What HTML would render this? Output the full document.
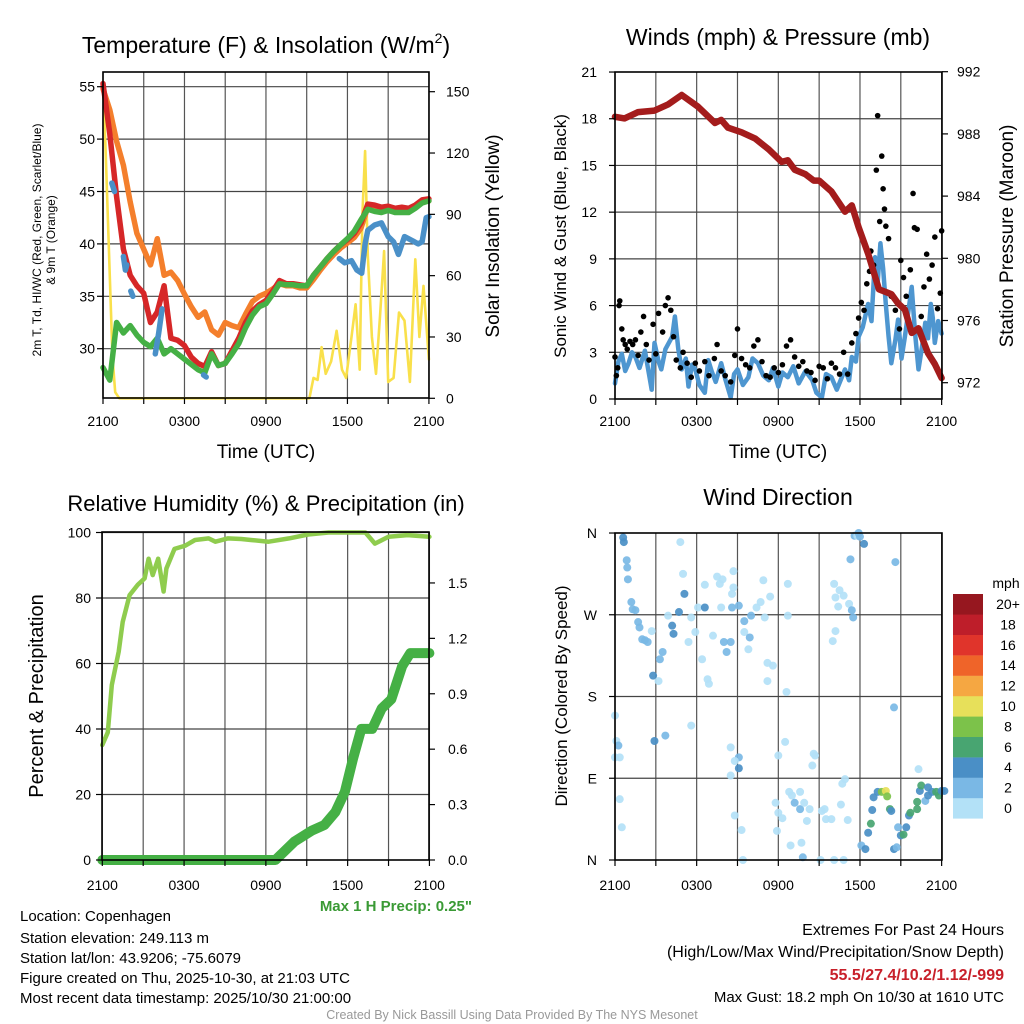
<!DOCTYPE html>
<html><head><meta charset="utf-8">
<style>
html,body{margin:0;padding:0;background:#fff;}
svg{display:block;font-family:"Liberation Sans",Arial,sans-serif;}
</style></head>
<body>
<svg id="chart" xmlns="http://www.w3.org/2000/svg" width="1024" height="1024" viewBox="0 0 1024 1024"></svg>
<script>
// ---------- DATA ----------
const hoursGrid = [0,0.5,1,1.5,2,2.5,3,3.5,4,4.5,5,5.5,6,6.5,7,7.5,8,8.5,9,9.5,10,10.5,11,11.5,12,12.5,13,13.5,14,14.5,15,15.5,16,16.5,17,17.5,18,18.5,19,19.5,20,20.5,21,21.5,22,22.5,23,23.5,24];
const temp2m = [55.3,50.5,44.5,39.5,37,36,35.3,32.5,33.5,36,31,30.8,30.3,29.2,28.6,28.3,29.7,28.4,28.6,29.8,31,32.5,33.6,34.2,34.6,35.5,36.5,36.2,36.2,36.1,36,37,37.8,38.6,39.3,39.9,40.4,41,42,43.8,43.7,43.5,43.6,43.4,43.5,43.4,43.7,44.2,44.3];
const temp9m = [54.8,52.8,49.8,47.5,44,41,39.5,38,40.5,37,37.3,36.5,35.2,34,33,33.5,31.8,31.3,32.5,32.2,32,33.3,34.5,35,35.3,35.7,36.2,36,36,35.8,35.8,36.6,37.5,38.3,39,39.6,40.1,40.6,41.5,43.5,43.4,43.2,43.3,43.1,43.2,43.2,43.5,44,44.1];
const heatWind = [28.2,27,32.5,31.5,32.2,31.3,30.6,30.2,31,29.5,30,29.5,29,28.5,28,27.7,29.5,28.4,28.6,29.5,30.5,32,33.2,34,34.3,35.2,36.2,36.1,36.1,36,36,37,37.8,38.6,39.3,39.9,40.5,41.2,42.3,43.3,43.1,43,43.2,43,43,43,43.4,43.9,44.1];
const dewHours = [0.65,0.85,0.9,1.5,1.65,1.75,1.95,2.05,2.2,2.3,3.85,4.1,4.35,4.4,7.4,7.6,7.7,17.4,17.8,18.3,18.7,19.05,19.3,19.5,20,20.5,21,21.4,21.75,22.2,22.8,23.2,23.5,23.8,24];
const dewValues = [45.8,45,null,38.8,37.5,38,null,35.5,35,null,29.5,31.5,33.8,null,27.5,27.3,null,38.6,38.2,38.4,37.5,37.2,40,41.3,41.8,42,40.7,40.2,39,40.7,40.3,40,40.2,42.5,42.6];
const insolHours = [0,0.2,0.45,0.7,0.9,1.2,15.2,15.5,15.8,16.1,16.4,16.8,17.2,17.6,17.9,18.3,18.6,18.9,19.1,19.3,19.5,19.8,20.1,20.4,20.7,21.0,21.4,21.8,22.2,22.6,23.0,23.3,23.6,24];
const insolValues = [155,120,70,20,3,0,0,10,9,25,12,18,33,14,10,30,46,14,90,121,70,30,12,40,72,8,10,42,38,8,68,30,55,19];

const windHours = [0,0.25,0.5,0.75,1,1.25,1.5,1.8,2.2,2.5,2.7,2.9,3.2,3.4,3.7,4.2,4.4,4.65,4.9,5.2,5.4,5.65,5.9,6.2,6.6,6.85,7.1,7.4,7.8,8.1,8.5,8.75,9,9.4,9.8,10.1,10.5,10.9,11.3,11.6,12,12.3,12.7,13.1,13.5,14,14.5,14.8,15.2,15.5,15.9,16.3,16.9,17.2,17.4,17.7,17.9,18.2,18.6,18.85,19.1,19.3,19.5,19.7,19.9,20.1,20.3,20.6,20.8,21.05,21.3,21.55,21.8,22.05,22.3,22.55,22.8,23.0,23.2,23.35,23.5,23.75,24];
const windSpeed = [1,2.4,2.9,1.8,2.3,3,2.7,2.0,3.1,1.6,0.6,3.6,2.4,1.9,3.2,4,5.3,3.2,1.9,2.6,0.8,2.2,1.9,0.9,0.4,2.5,1.8,1.1,2.3,1.3,0.1,1.6,1.9,0.9,1.4,2.6,2.3,1.5,1.2,2.0,0.8,1.7,1.4,2.1,1,1.8,1.2,0.4,0.1,1.6,1.4,0.6,1.9,1.2,2.7,2.4,4,4.6,6.1,5,9.1,7.5,10,8.4,6.1,4.0,2.3,3.8,5.1,2.6,4,5.6,7.2,4.2,1.9,3.3,4.9,3.9,6.1,5.2,3.6,5.0,4.2];
const gustHours = [0,0.1,0.2,0.3,0.35,0.5,0.6,0.75,0.9,1.1,1.3,1.5,1.7,1.9,2.1,2.3,2.5,2.8,3.0,3.2,3.5,3.7,3.9,4.1,4.3,4.5,4.8,5,5.3,5.6,5.9,6.2,6.6,6.9,7.3,7.5,7.8,8.1,8.5,8.8,9.0,9.3,9.6,9.9,10.2,10.5,10.8,11.1,11.4,11.7,12,12.3,12.6,12.9,13.2,13.5,13.8,14.1,14.4,14.7,15,15.3,15.6,15.9,16.2,16.5,16.8,17.1,17.4,17.7,17.9,18.1,18.3,18.5,18.7,18.8,19.0,19.2,19.3,19.45,19.6,19.7,19.8,19.9,20.1,20.3,20.6,20.9,21.0,21.2,21.4,21.7,21.9,22.0,22.2,22.5,22.7,22.9,23.1,23.3,23.5,23.7,23.9,24];
const gustSpeed = [2.7,1.5,2,6,6.3,4.5,3.8,3.5,3.2,3.7,3.5,3.8,2.8,4.3,5.3,3.5,2.5,4.8,2.9,5.5,4.3,6,6.5,5.7,4,2.5,2,3,2.3,1.4,2.3,1.8,2.4,1.5,2.6,3.5,1.8,1.5,1.1,2.8,4.5,2.6,2.2,2.0,3.4,3.8,2.4,1.5,1.4,2.0,1.7,2.2,3.4,3.8,2.7,2.1,2.4,1.8,1.7,1.2,2.1,2.0,1.3,2.3,2.0,1.6,3,1.6,3.6,4.2,5.2,6.2,5.7,7.4,8.2,9.5,8.6,14.7,18.2,11.4,15.6,13.5,12.2,11.1,10.3,6.6,5.7,4.5,8.9,7.8,6.6,8.3,13.2,11.0,10.9,5.3,7.2,9.3,7.7,8.6,10.4,5.8,6.8,10.8];
const presHours = [0,0.7,1.7,2.9,3.9,4.9,6.1,7.35,7.8,8.3,9.3,10.3,11.3,12.25,12.7,13.2,14,14.6,15,15.9,16.9,17.4,17.9,18.6,19.4,20.3,20.8,21.3,21.8,22.3,23,23.5,24];
const pressure = [989.1,989.0,989.4,989.5,989.9,990.5,989.75,988.7,988.9,988.4,988.1,987.7,987.0,986.2,986.3,985.7,985.4,985.0,985.0,984.3,983.0,983.4,982.0,980.3,978.0,977.7,977.1,976.7,975.2,975.5,973.9,973.2,972.3];

const rhHours = [0,0.4,0.7,1.2,1.5,2,2.6,3.1,3.4,3.7,4.1,4.5,4.7,5.3,6.1,6.8,7.8,8.3,9.2,10.2,10.9,12.2,13.7,15.1,16.6,19.3,20,21,22.4,24];
const rhValues = [35.1,39,53.4,63.6,72.7,80.9,84,86,92,87,92,82,89,95,96,97.7,98.2,97.2,98.2,98,97.7,97.2,98.2,99.4,100,100,96.6,98.7,99.2,98.7];
const precipHours = [0,12.7,14.1,15.4,16.3,17.1,17.8,18.4,19,19.8,20.5,21.2,22,22.6,24];
const precipValues = [0,0,0.1,0.16,0.19,0.26,0.37,0.55,0.71,0.71,0.82,0.87,1.05,1.12,1.12];

const dirHours = [0.6,0.65,0.86,0.9,0.95,1.2,1.3,1.5,1.7,1.8,2.0,2.2,2.4,2.7,2.8,3.2,3.3,3.5,3.9,4.2,4.3,4.7,4.8,5.0,5.1,5.4,5.6,5.9,6.1,6.4,6.6,6.6,6.8,6.9,7.2,7.5,7.7,7.8,8.0,8.2,8.5,8.6,8.7,7.9,8.6,8.7,9.1,9.5,9.5,9.8,9.9,10.0,10.4,10.7,10.9,11.0,11.4,11.6,11.2,11.2,12.6,12.7,12.7,16.1,16.5,16.8,16.2,16.4,16.2,16.0,17.2,17.4,17.5,17.3,17.6,17.8,18.0,18.3,17.9,20.6,20.5,
0,0.1,0.25,0.35,0.35,0.5,0,2.9,3.7,5.6,8.5,9.1,8.8,9.1,8.8,9.3,9.4,8.5,11.8,12.0,12.3,12.0,12.5,12.8,13.0,13.2,13.6,13.6,13.9,14.1,14.3,14.5,14.7,14.6,15.2,15.4,15.5,15.9,13.7,12.9,11.9,13.8,15.1,16.1,16.8,16.9,16.6,16.7,17.1,22.3,
18.1,18.4,18.6,18.8,18.9,19.0,19.3,19.6,19.9,20.0,20.2,20.3,20.5,20.7,20.8,21.0,21.2,21.4,21.6,21.7,22.2,22.2,22.4,22.5,22.8,23.0,23.3,23.6,23.8,24.0,24.2,23.0];
const dirDegrees = [355,350,330,322,309,284,276,275,262,256,243,242,240,252,203,197,221,229,269,258,249,273,350,315,293,240,267,251,278,221,303,278,199,194,247,312,304,278,240,229,240,293,318,309,278,300,280,263,251,232,245,269,278,284,308,267,290,214,197,217,185,269,304,304,297,291,289,279,252,241,282,275,267,331,357,357,356,348,360,328,
168,159,131,126,113,67,36,113,131,137,148,124,113,109,101,49,33,0,93,63,52,46,115,130,75,71,63,56,75,63,43,56,104,115,117,54,56,45,45,19,16,32,3,0,0,0,89,61,84,44,100,
16,12,30,40,55,69,75,75,76,70,56,54,12,14,36,27,28,36,49,52,56,64,76,82,65,71,75,75,71,76,76,80];
const dirSpeed = [4,4,2,2,2,2,2,2,2,2,2,2,2,0,4,0,2,2,0,4,4,4,0,0,4,0,0,0,0,0,0,4,0,0,0,0,0,0,2,2,2,0,0,0,2,0,2,2,0,0,2,2,0,0,0,0,0,0,0,0,0,0,0,0,0,0,0,0,0,0,0,2,2,2,2,0,2,4,2,2,2,
0,0,2,0,0,0,0,4,2,0,0,2,0,4,0,0,0,0,0,0,0,0,0,0,0,2,2,0,0,0,0,0,0,0,0,0,0,0,0,0,0,2,0,0,0,0,0,0,0,0,2,
4,4,6,4,4,4,8,10,8,6,4,4,2,2,4,6,4,4,6,6,6,4,6,2,4,4,6,6,4,4,4,4];

const speedBins = ["0","2","4","6","8","10","12","14","16","18","20+"];
const binColors = ["#b3e1f7","#7ab8e5","#4a8fc6","#48a571","#7cc24a","#e7e05a","#f5a742","#ef6429","#e0342b","#be1e2a","#96171f"];

// ---------- SCALES ----------
const hx1 = h => 103 + h*13.58;
const tempY = v => 86.7 + (55 - v)*10.48;
const insY = v => 398.3 - v*2.044;
const hx2 = h => 615 + h*13.61;
const windY = v => 399 - v*15.57;
const presY = p => 71.7 + (992 - p)*15.55;
const hx3 = h => 102.3 + h*13.63;
const rhY = v => 860 - v*3.275;
const prY = v => 860 - v*184.7;
const hx4 = h => 615 + h*13.61;
const dirY = d => 860 - d*0.9083;

const NS = "http://www.w3.org/2000/svg";
const svg = document.getElementById("chart");
function mk(tag, attrs, parent){
  const e = document.createElementNS(NS, tag);
  for (const k in attrs) e.setAttribute(k, attrs[k]);
  (parent||svg).appendChild(e);
  return e;
}
function txt(s, x, y, size, anchor, extra, parent){
  const t = mk("text", Object.assign({x:x, y:y, "font-size":size, "text-anchor":anchor||"middle", fill:"#000"}, extra||{}), parent);
  t.textContent = s;
  return t;
}
function pathFrom(xs, ys, fx, fy){
  let d = "", pen = false;
  for (let i=0;i<xs.length;i++){
    if (ys[i]===null){ pen=false; continue; }
    d += (pen?"L":"M") + fx(xs[i]).toFixed(1) + " " + fy(ys[i]).toFixed(1) + " ";
    pen = true;
  }
  return d;
}

function panelFrame(name, x0, y0, x1, y1, gridXs, gridYs){
  const g = mk("g", {});
  
  
  gridXs.forEach(x=>{
    const l = mk("line",{x1:x,y1:y0,x2:x,y2:y1,stroke:"#555","stroke-width":1.2}, g);
    
    
  });
  gridYs.forEach(y=>{
    const l = mk("line",{x1:x0,y1:y,x2:x1,y2:y,stroke:"#444","stroke-width":1.2}, g);
    
    
  });
  return g;
}
function border(x0,y0,x1,y1){
  const r = mk("rect",{x:x0,y:y0,width:x1-x0,height:y1-y0,fill:"none",stroke:"#000","stroke-width":1.6});
  
  
}
const timeTicks = [0,3,6,9,12,15,18,21,24];
const timeLabels = ["2100","","0300","","0900","","1500","","2100"];
function xTicks(fx, yb, labelY){
  timeTicks.forEach((h,i)=>{
    const l = mk("line",{x1:fx(h),y1:yb,x2:fx(h),y2:yb+6,stroke:"#000","stroke-width":1.2});
    
    
    if (timeLabels[i]) {
      const t = txt(timeLabels[i], fx(h), labelY, 14);
      
      
    }
  });
}
function yTicks(vals, labels, fy, xAxis, side, labelX){
  vals.forEach((v,i)=>{
    const dx = side==="left" ? -6 : 6;
    const l = mk("line",{x1:xAxis,y1:fy(v),x2:xAxis+dx,y2:fy(v),stroke:"#000","stroke-width":1.2});
    
    
    const t = txt(labels[i], labelX, fy(v)+5, 14, side==="left"?"end":"start");
    
    
  });
}
function series(d, color, width, name, opacity){
  const p = mk("path",{d:d,fill:"none",stroke:color,"stroke-width":width,"stroke-linejoin":"round","stroke-linecap":"round","stroke-opacity":opacity||1});
  
  
  return p;
}

// ---------- PANEL 1 ----------
panelFrame("temperature-grid",103,72,429,398,timeTicks.map(hx1),[30,35,40,45,50,55].map(tempY));
series(pathFrom(insolHours, insolValues, hx1, insY), "#f9e04b", 2.6, "insolation-line");
series(pathFrom(hoursGrid, temp9m, hx1, tempY), "#f47f2c", 5.5, "temp-9m-line");
series(pathFrom(hoursGrid, temp2m, hx1, tempY), "#d62728", 5.5, "temp-2m-line");
series(pathFrom(hoursGrid, heatWind, hx1, tempY), "#45b045", 5.5, "heat-index-windchill-line");
series(pathFrom(dewHours, dewValues, hx1, tempY), "#4a90c8", 5.5, "dewpoint-line");
border(103,72,429,398);
xTicks(hx1, 398, 426);
yTicks([30,35,40,45,50,55],["30","35","40","45","50","55"],tempY,103,"left",95);
yTicks([0,30,60,90,120,150],["0","30","60","90","120","150"],insY,429,"right",446);
let t;
t = mk("text",{x:266,y:53,"font-size":23,"text-anchor":"middle",fill:"#000"});
 
t.appendChild(document.createTextNode("Temperature (F) & Insolation (W/m"));
const sup = mk("tspan",{"font-size":14,dy:-10}, t); sup.textContent = "2";
const cls = mk("tspan",{dy:10}, t); cls.textContent = ")";
t = txt("Time (UTC)", 266, 458, 19);  
t = txt("2m T, Td, HI/WC (Red, Green, Scarlet/Blue)", 0, 0, 12, "middle", {transform:"translate(41,240) rotate(-90)"});  
t = txt("& 9m T (Orange)", 0, 0, 12, "middle", {transform:"translate(55,240) rotate(-90)"});  
t = txt("Solar Insolation (Yellow)", 0, 0, 19, "middle", {transform:"translate(499,236) rotate(-90)"});  

// ---------- PANEL 2 ----------
panelFrame("wind-grid",615,72,942,399,timeTicks.map(hx2),[3,6,9,12,15,18].map(windY));
series(pathFrom(windHours, windSpeed, hx2, windY), "#4e96d0", 4.5, "wind-speed-line");
gustHours.forEach((h,i)=>{
  const c = mk("circle",{cx:hx2(h),cy:windY(gustSpeed[i]),r:2.8,fill:"#000"});
  
  
});
series(pathFrom(presHours, pressure, hx2, presY), "#a41c1c", 6.5, "pressure-line");
border(615,72,942,399);
xTicks(hx2, 399, 426);
yTicks([0,3,6,9,12,15,18,21],["0","3","6","9","12","15","18","21"],windY,615,"left",597);
yTicks([972,976,980,984,988,992],["972","976","980","984","988","992"],presY,942,"right",957);
t = txt("Winds (mph) & Pressure (mb)", 778, 45, 23);  
t = txt("Time (UTC)", 778, 458, 19);  
t = txt("Sonic Wind & Gust (Blue, Black)", 0, 0, 17, "middle", {transform:"translate(566,236) rotate(-90)"});  
t = txt("Station Pressure (Maroon)", 0, 0, 19, "middle", {transform:"translate(1013,236) rotate(-90)"});  

// ---------- PANEL 3 ----------
panelFrame("humidity-grid",102,532,429,860,timeTicks.map(hx3),[20,40,60,80,100].map(rhY));
series(pathFrom(rhHours, rhValues, hx3, rhY), "#8fcc4e", 4.5, "humidity-line");
series(pathFrom(precipHours, precipValues, hx3, prY), "#45b045", 10, "precipitation-line");
border(102,532,429,860);
xTicks(hx3, 860, 890);
yTicks([0,20,40,60,80,100],["0","20","40","60","80","100"],rhY,102,"left",91);
yTicks([0,0.3,0.6,0.9,1.2,1.5],["0.0","0.3","0.6","0.9","1.2","1.5"],prY,429,"right",448);
t = txt("Relative Humidity (%) & Precipitation (in)", 266, 511, 22);  
t = txt("Percent & Precipitation", 0, 0, 20, "middle", {transform:"translate(43,696) rotate(-90)"});  
t = txt("Max 1 H Precip: 0.25\"", 472, 911, 15, "end", {fill:"#3a9a35","font-weight":"bold"});  

// ---------- PANEL 4 ----------
panelFrame("direction-grid",615,533,942,860,timeTicks.map(hx4),[90,180,270].map(dirY));
dirHours.forEach((h,i)=>{
  const bin = Math.min(10, Math.round(dirSpeed[i]/2));
  const c = mk("circle",{cx:hx4(h),cy:dirY(dirDegrees[i]),r:4,fill:binColors[bin],"fill-opacity":0.92});
  
  
});
border(615,533,942,860);
xTicks(hx4, 860, 890);
[["N",360],["W",270],["S",180],["E",90],["N",0]].forEach(p=>{
  const l = mk("line",{x1:615,y1:dirY(p[1]),x2:609,y2:dirY(p[1]),stroke:"#000","stroke-width":1.2});
  
  
  const tt = txt(p[0], 597, dirY(p[1])+5, 14, "end");
  
  
});
t = txt("Wind Direction", 778, 505, 23);  
t = txt("Direction (Colored By Speed)", 0, 0, 17, "middle", {transform:"translate(567,696) rotate(-90)"});  

// colorbar
t = txt("mph", 1006, 588, 14);  
speedBins.forEach((lab,i)=>{
  const y = 594 + (10-i)*20.4;
  const r = mk("rect",{x:953,y:y,width:30,height:20.6,fill:binColors[i]});
  
  
  const tt = txt(lab, 1008, y+15, 14);
  
  
});

// ---------- INFO TEXT ----------
const infoLines = ["Location: Copenhagen","Station elevation: 249.113 m","Station lat/lon: 43.9206; -75.6079","Figure created on Thu, 2025-10-30, at 21:03 UTC","Most recent data timestamp: 2025/10/30 21:00:00"];
const infoY = [921,943,963,983,1003];
infoLines.forEach((s,i)=>{
  const tt = txt(s, 20, infoY[i], 15, "start");
  
  
});
t = txt("Extremes For Past 24 Hours", 1004, 935, 16, "end");  
t = txt("(High/Low/Max Wind/Precipitation/Snow Depth)", 1004, 957, 16, "end");  
t = txt("55.5/27.4/10.2/1.12/-999", 1004, 980, 16, "end", {fill:"#c8202a","font-weight":"bold"});  
t = txt("Max Gust: 18.2 mph On 10/30 at 1610 UTC", 1004, 1002, 15, "end");  
t = txt("Created By Nick Bassill Using Data Provided By The NYS Mesonet", 512, 1019, 12.5, "middle", {fill:"#999"});  
</script>
</body></html>
